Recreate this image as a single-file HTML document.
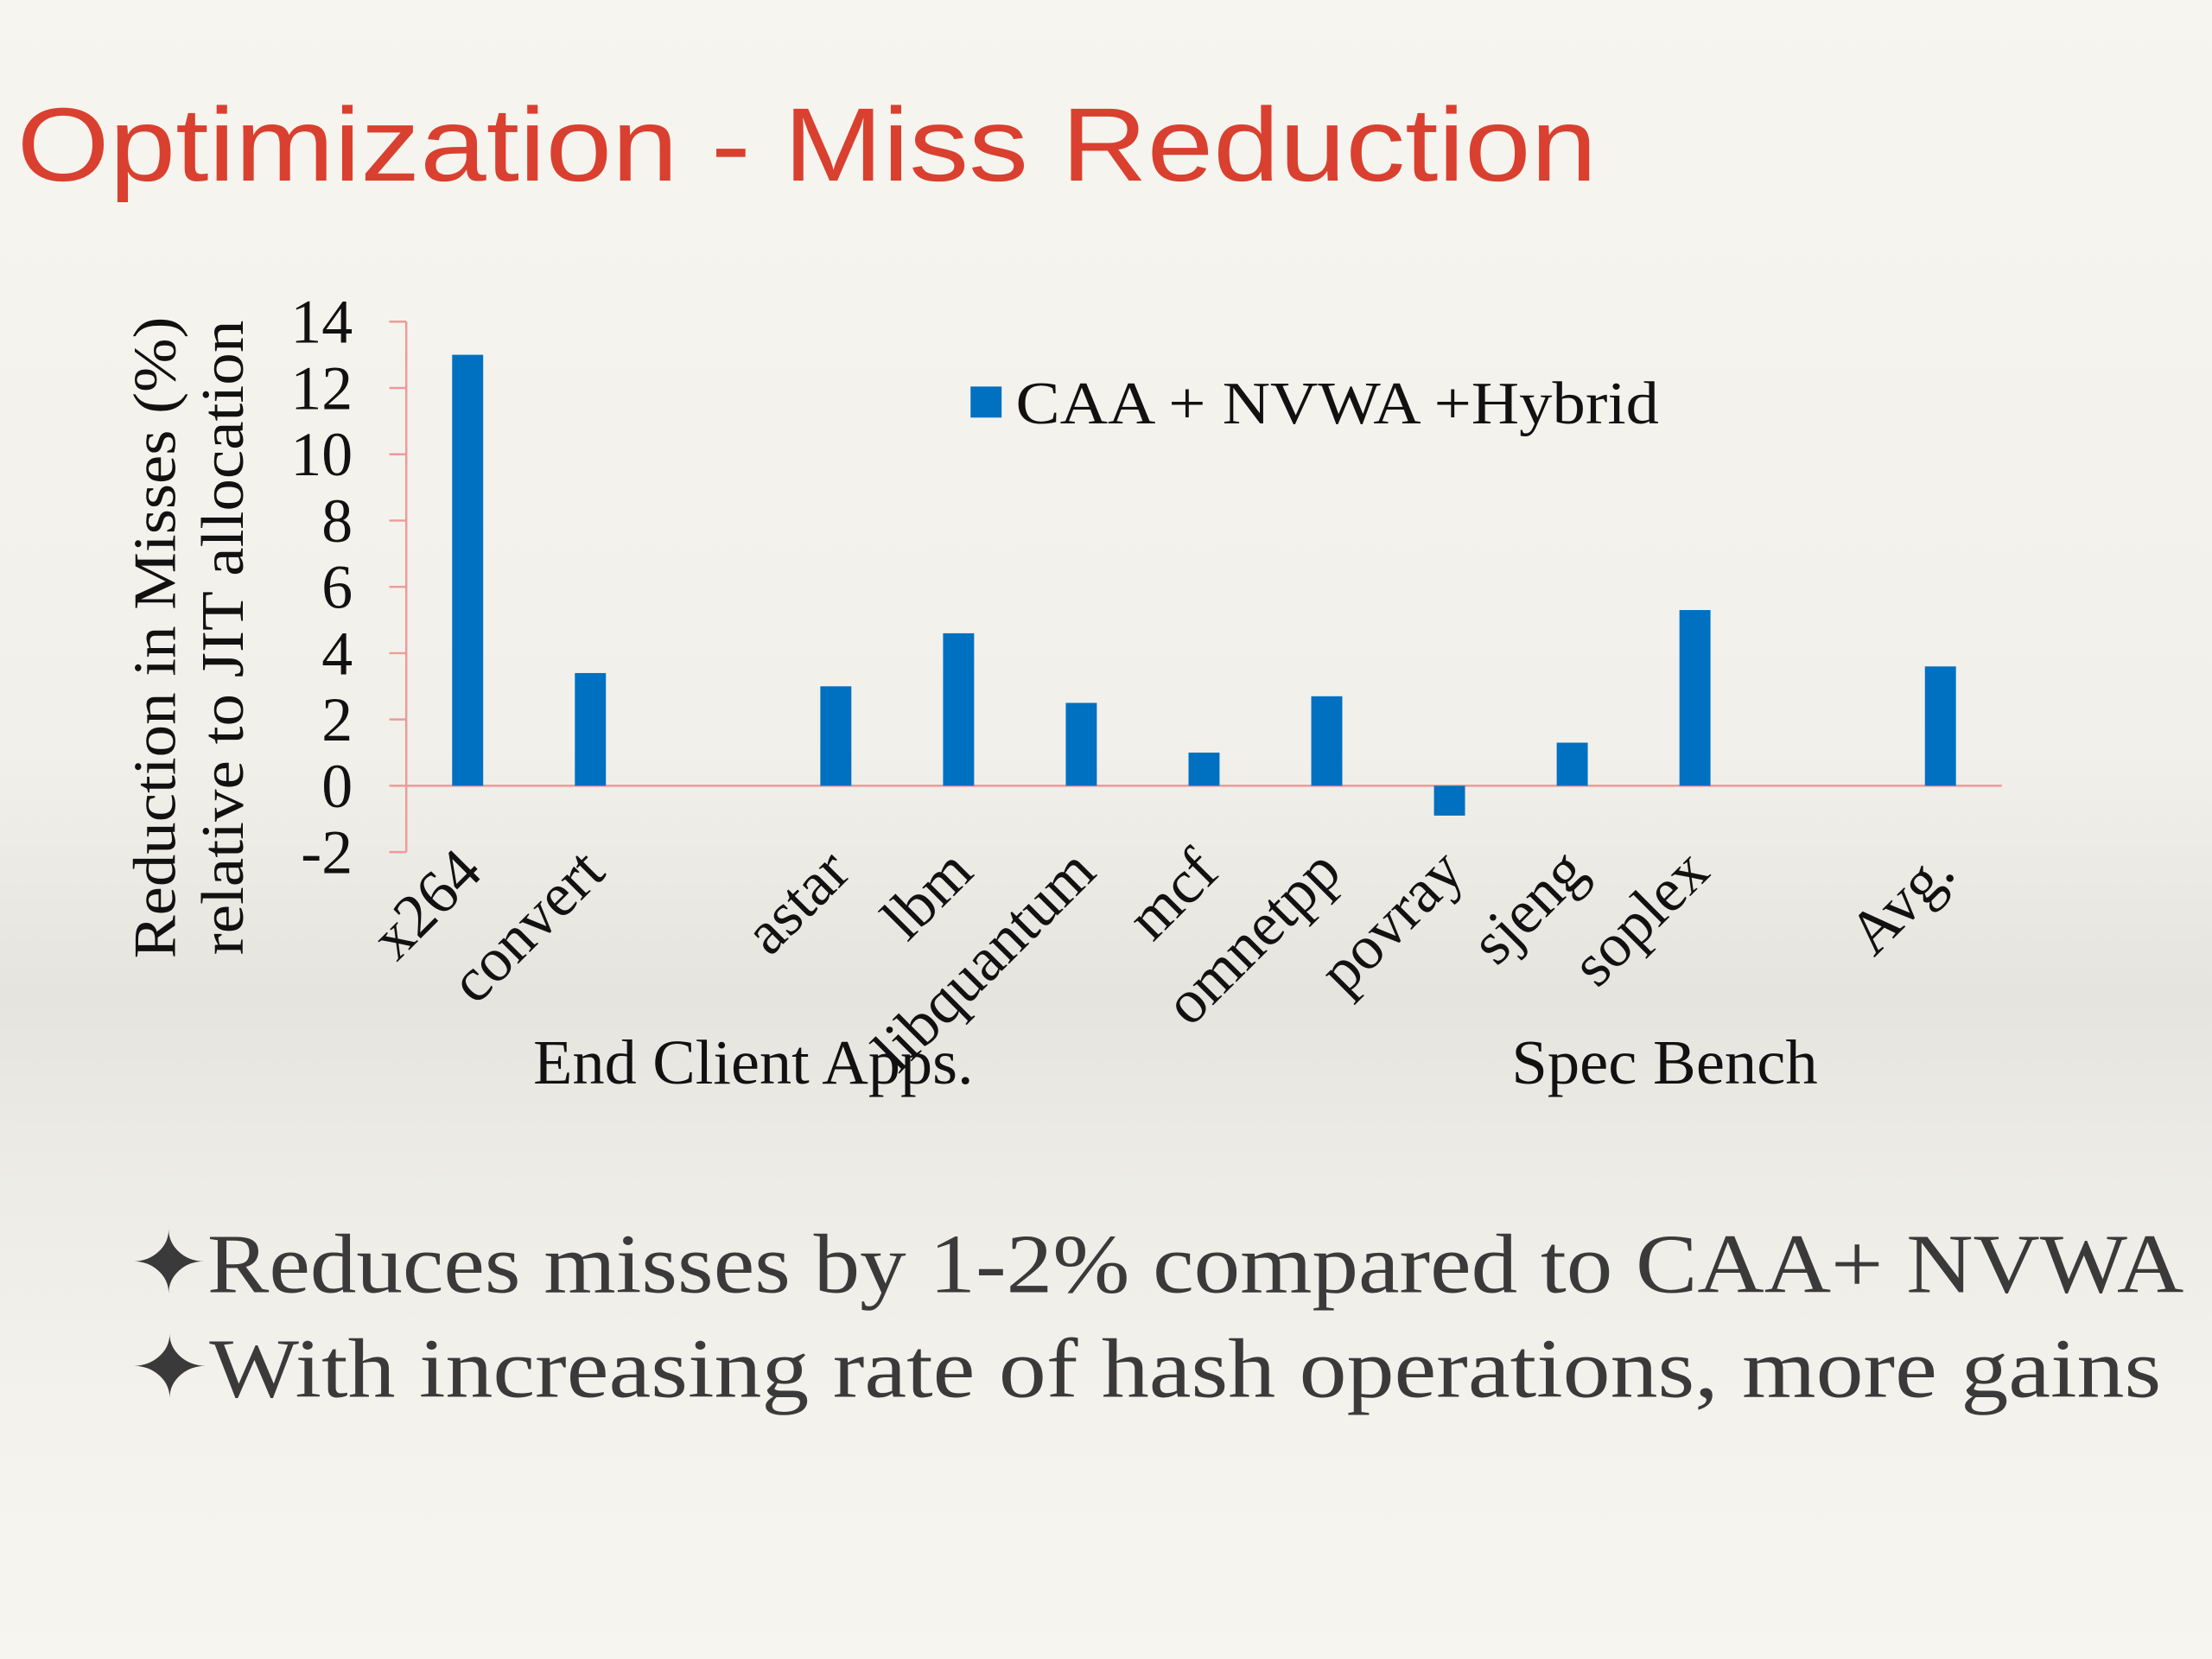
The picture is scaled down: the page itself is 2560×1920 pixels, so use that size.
<!DOCTYPE html>
<html><head><meta charset="utf-8"><style>
html,body{margin:0;padding:0;width:2560px;height:1920px;overflow:hidden}
body{background:linear-gradient(to bottom,#f7f5ef 0%,#f2f0ea 45%,#e6e4df 60%,#ecebe6 70%,#f4f2ec 85%,#f7f5ef 100%)}
svg{display:block}
</style></head><body>
<svg id="chart" width="2560" height="1920" viewBox="0 0 1568 1176" xmlns="http://www.w3.org/2000/svg">
<text x="12" y="128" font-family="'Liberation Sans',sans-serif" font-size="74" fill="#d9402f" textLength="1120" lengthAdjust="spacingAndGlyphs">Optimization - Miss Reduction</text>
<g id="plot" font-family="'Liberation Serif',serif" fill="#111"></g>
<text x="92" y="916" font-family="'Liberation Serif',serif" font-size="60" fill="#3a3a3a" textLength="1456" lengthAdjust="spacingAndGlyphs">✦Reduces misses by 1-2% compared to CAA+ NVWA</text>
<text x="92" y="990" font-family="'Liberation Serif',serif" font-size="60" fill="#3a3a3a" textLength="1440" lengthAdjust="spacingAndGlyphs">✦With increasing rate of hash operations, more gains</text>
</svg>
<script>
const categories=["x264","convert","","astar","lbm","libquantum","mcf","omnetpp","povray","sjeng","soplex","","Avg."];
const values=[13.0,3.4,null,3.0,4.6,2.5,1.0,2.7,-0.9,1.3,5.3,null,3.6];
const yTicks=[-2,0,2,4,6,8,10,12,14];
const groups=["End Client Apps.","Spec Bench"];
const NS="http://www.w3.org/2000/svg";
const g=document.getElementById('plot');
const x0=288,x1=1419,yMin=-2,yMax=14,yTop=228,yBot=604;
const slot=(x1-x0)/categories.length;
const y=v=>yBot-(v-yMin)/(yMax-yMin)*(yBot-yTop);
const xc=i=>x0+slot*(i+0.5);
function mk(t,a){const e=document.createElementNS(NS,t);for(const k in a)e.setAttribute(k,a[k]);g.appendChild(e);return e;}
const ax=mk('line',{x1:x0,y1:yTop,x2:x0,y2:yBot,stroke:'#ec9a9a','stroke-width':1.5});


const zx=mk('line',{x1:x0,y1:y(0),x2:x1,y2:y(0),stroke:'#ec9a9a','stroke-width':1.5});


yTicks.forEach(v=>{
 const tk=mk('line',{x1:x0-12,y1:y(v),x2:x0,y2:y(v),stroke:'#ec9a9a','stroke-width':1.5});
 
 
 const t=mk('text',{x:x0-38,y:y(v)+15,'text-anchor':'end','font-size':44});
 t.textContent=v;
 
 
});
values.forEach((v,i)=>{
 if(v===null)return;
 const top=Math.min(y(v),y(0)),h=Math.abs(y(v)-y(0));
 const b=mk('rect',{x:xc(i)-11,y:top,width:22,height:h,fill:'#0070c0'});
 
 
});
categories.forEach((c,i)=>{
 if(!c)return;
 const tx=xc(i)+12,ty=620;
 const t=mk('text',{x:tx,y:ty,'text-anchor':'end','font-size':44,transform:`rotate(-45 ${tx} ${ty})`});
 t.textContent=c;
 
 
});
const gx=[534,1180];
const gw=[312,217];
groups.forEach((s,i)=>{
 const t=mk('text',{x:gx[i],y:768,'text-anchor':'middle','font-size':45,textLength:gw[i],lengthAdjust:'spacingAndGlyphs'});
 t.textContent=s;
 
 
});
const yt1=mk('text',{x:0,y:0,'text-anchor':'middle','font-size':43,transform:'translate(124 452) rotate(-90)',textLength:455,lengthAdjust:'spacingAndGlyphs'});
yt1.textContent='Reduction in Misses (%)';


const yt2=mk('text',{x:0,y:0,'text-anchor':'middle','font-size':43,transform:'translate(172 452) rotate(-90)',textLength:450,lengthAdjust:'spacingAndGlyphs'});
yt2.textContent='relative to JIT allocation';


const ls=mk('rect',{x:688,y:274,width:22,height:22,fill:'#0070c0'});


const lt=mk('text',{x:720,y:300,'font-size':43,textLength:456,lengthAdjust:'spacingAndGlyphs'});
lt.textContent='CAA + NVWA +Hybrid';


</script>
</body></html>
